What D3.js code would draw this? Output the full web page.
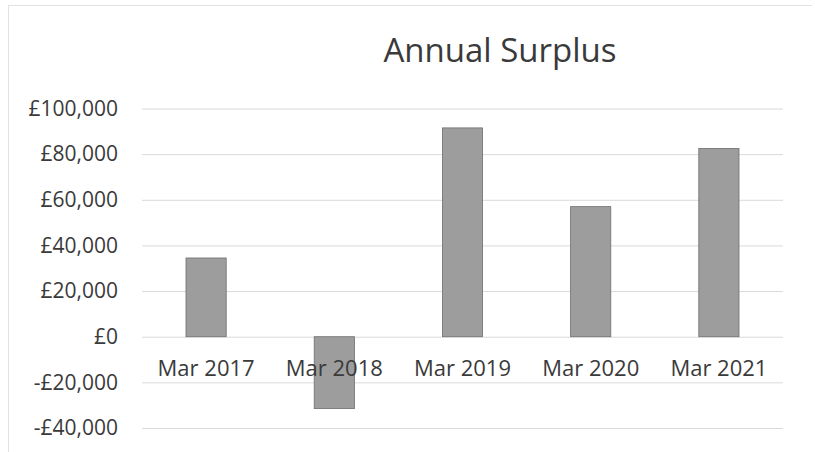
<!DOCTYPE html>
<html>
<head>
<meta charset="utf-8">
<script src="https://cdn.jsdelivr.net/npm/d3@7"></script>
<style>
  html, body { margin: 0; padding: 0; background: #fff; }
  svg { display: block; }
  text { font-family: "Open Sans", "Noto Sans", sans-serif; fill: #3a3a3a; }
</style>
</head>
<body>
<svg id="chart" width="815" height="452"></svg>
<script>
const title = "Annual Surplus";
const categories = ["Mar 2017", "Mar 2018", "Mar 2019", "Mar 2020", "Mar 2021"];
const surplus = [34500, -31500, 91500, 57000, 82500];
const yTicks = [-40000, -20000, 0, 20000, 40000, 60000, 80000, 100000];

const svg = d3.select("#chart");
const W = 815, H = 452;
const plot = { left: 142, right: 783, top: 108.5, bottom: 428 };

// frame lines (top and left edge of the chart area)
svg.append("line").attr("x1", 8).attr("x2", 812).attr("y1", 5.5).attr("y2", 5.5)
  .attr("stroke", "#e2e2e2").attr("stroke-width", 1);
svg.append("line").attr("x1", 8.5).attr("x2", 8.5).attr("y1", 5).attr("y2", H)
  .attr("stroke", "#e2e2e2").attr("stroke-width", 1);

const x = d3.scaleBand().domain(categories).range([plot.left, plot.right]).padding(0);
const y = d3.scaleLinear().domain([-40000, 100000]).range([plot.bottom, plot.top]);

const fmt = v => (v < 0 ? "-" : "") + "£" + d3.format(",")(Math.abs(v));

// gridlines + value labels
const yAxis = d3.axisLeft(y).tickValues(yTicks).tickFormat(fmt)
  .tickSize(-(plot.right - plot.left)).tickPadding(24);
const gy = svg.append("g").attr("transform", `translate(${plot.left},0)`).call(yAxis);
gy.select(".domain").remove();
gy.selectAll(".tick line").attr("stroke", "#d9d9d9").attr("stroke-width", 1);
gy.selectAll(".tick text").attr("font-size", 21).attr("fill", "#3a3a3a")
  .style("font-family", '"Open Sans", sans-serif');

// bars
const barW = x.bandwidth() / 3.19;
svg.append("g").selectAll("rect").data(categories).join("rect")
  .attr("x", d => x(d) + (x.bandwidth() - barW) / 2)
  .attr("y", (d, i) => y(Math.max(0, surplus[i])))
  .attr("width", barW)
  .attr("height", (d, i) => Math.abs(y(surplus[i]) - y(0)))
  .attr("fill", "#9d9d9d")
  .attr("stroke", "#6e6e6e")
  .attr("stroke-width", 0.8);

// category labels (placed just under the zero line)
const xAxis = d3.axisBottom(x).tickSize(0).tickPadding(24);
const gx = svg.append("g").attr("transform", `translate(0,${y(0)})`).call(xAxis);
gx.select(".domain").remove();
gx.selectAll(".tick text").attr("font-size", 22).attr("fill", "#3a3a3a")
  .style("font-family", '"Open Sans", sans-serif');

// title
svg.append("text").attr("x", 500).attr("y", 62).attr("text-anchor", "middle")
  .attr("font-size", 33).attr("fill", "#3a3a3a").text(title);
</script>
</body>
</html>
